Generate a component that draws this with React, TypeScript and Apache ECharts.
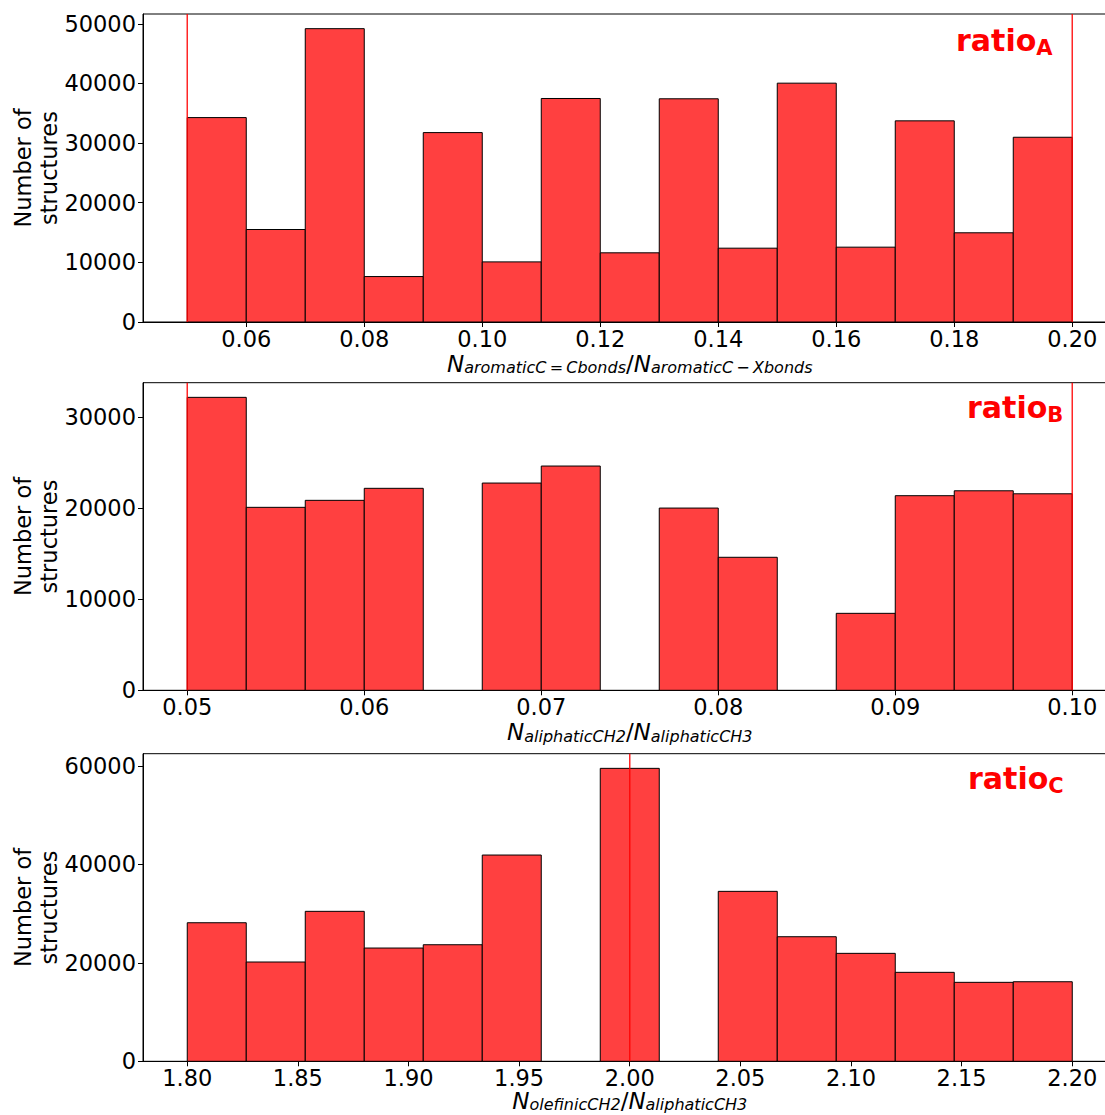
import React, { useEffect, useRef } from "react";
import * as echarts from "echarts";

const FONT = "DejaVu Sans";

// Histogram counts (15 equal bins per panel)
const countsA = [34280, 15510, 49190, 7620, 31760, 10080, 37480, 11600, 37430, 12380, 40050, 12550, 33730, 14960, 30980];
const countsB = [32200, 20110, 20880, 22200, 0, 22780, 24650, 0, 20030, 14620, 0, 8460, 21390, 21930, 21600];
const countsC = [28160, 20180, 30480, 23020, 23690, 41920, 0, 59540, 0, 34540, 25320, 21940, 18080, 16050, 16170];

// Bin ranges
const rangeA = [0.05, 0.2];
const rangeB = [0.05, 0.1];
const rangeC = [1.8, 2.2];

// Reference (red) vertical lines
const refA = [0.05, 0.2];
const refB = [0.05, 0.1];
const refC = [2.0];

// Tick values
const xTicksA = [0.06, 0.08, 0.1, 0.12, 0.14, 0.16, 0.18, 0.2];
const xTicksB = [0.05, 0.06, 0.07, 0.08, 0.09, 0.1];
const xTicksC = [1.8, 1.85, 1.9, 1.95, 2.0, 2.05, 2.1, 2.15, 2.2];
const yTicksA = [0, 10000, 20000, 30000, 40000, 50000];
const yTicksB = [0, 10000, 20000, 30000];
const yTicksC = [0, 20000, 40000, 60000];

const TS = "\u2009";

const panels = [
  {
    counts: countsA, range: rangeA, refs: refA, xTicks: xTicksA, yTicks: yTicksA,
    top: 14, height: 308, label: "A", labelX: 956, labelTop: 25.5, nameGap: 29.7,
    xName: [["n", "N"], ["s", `aromaticC${TS}=${TS}Cbonds`], ["u", "/"], ["n", "N"], ["s", `aromaticC${TS}\u2212${TS}Xbonds`]],
  },
  {
    counts: countsB, range: rangeB, refs: refB, xTicks: xTicksB, yTicks: yTicksB,
    top: 382.7, height: 307.6, label: "B", labelX: 967, labelTop: 392,
    nameGap: 29.7,
    xName: [["n", "N"], ["s", "aliphaticCH2"], ["u", "/"], ["n", "N"], ["s", "aliphaticCH3"]],
  },
  {
    counts: countsC, range: rangeC, refs: refC, xTicks: xTicksC, yTicks: yTicksC,
    top: 753.7, height: 307.6, label: "C", labelX: 968, labelTop: 763.5,
    nameGap: 27.3,
    xName: [["n", "N"], ["s", "olefinicCH2"], ["u", "/"], ["n", "N"], ["s", "aliphaticCH3"]],
  },
];

const GRID_LEFT = 143;
const GRID_WIDTH = 973.5;

function buildOption() {
  const grid: any[] = [];
  const xAxis: any[] = [];
  const yAxis: any[] = [];
  const series: any[] = [];
  const graphic: any[] = [];

  panels.forEach((p, i) => {
    const [lo, hi] = p.range;
    const n = p.counts.length;
    const w = (hi - lo) / n;
    const pad = (hi - lo) * 0.05;
    const yMax = Math.max(...p.counts) * 1.05;
    const data = p.counts.map((c, k) => [lo + k * w, lo + (k + 1) * w, c]);

    grid.push({
      left: GRID_LEFT, top: p.top, width: GRID_WIDTH, height: p.height,
      containLabel: false, outerBoundsMode: "none",
      show: true, borderColor: "#000", borderWidth: 1, backgroundColor: "transparent",
    });

    xAxis.push({
      type: "value", gridIndex: i, min: lo - pad, max: hi + pad,
      axisLine: { show: true, onZero: false, lineStyle: { color: "#000", width: 1 } },
      axisTick: { show: true, length: 5, lineStyle: { color: "#000", width: 1 }, customValues: p.xTicks },
      axisLabel: {
        customValues: p.xTicks, color: "#000", fontFamily: FONT, fontSize: 22.5, lineHeight: 20, margin: 7,
        formatter: (v: number) => v.toFixed(2),
      },
      splitLine: { show: false },
      name: p.xName.map(([s, t]) => `{${s}|${t}}`).join(""),
      nameLocation: "middle",
      nameGap: p.nameGap,
      nameMoveOverlap: false,
      nameTextStyle: {
        color: "#000", fontFamily: FONT,
        rich: {
          n: { fontSize: 23, fontStyle: "italic", fontFamily: FONT, lineHeight: 24, verticalAlign: "middle", color: "#000" },
          u: { fontSize: 23, fontFamily: FONT, lineHeight: 24, verticalAlign: "middle", color: "#000" },
          s: { fontSize: 16, fontStyle: "italic", fontFamily: FONT, lineHeight: 14, verticalAlign: "bottom", color: "#000" },
        },
      },
    });

    yAxis.push({
      type: "value", gridIndex: i, min: 0, max: yMax,
      axisLine: { show: true, lineStyle: { color: "#000", width: 1 } },
      axisTick: { show: true, length: 5, lineStyle: { color: "#000", width: 1 }, customValues: p.yTicks },
      axisLabel: {
        customValues: p.yTicks, color: "#000", fontFamily: FONT, fontSize: 22.5, margin: 7,
        formatter: (v: number) => String(Math.round(v)),
      },
      splitLine: { show: false },
      name: "Number of\nstructures",
      nameLocation: "middle",
      nameRotate: 90,
      nameGap: 81,
      nameMoveOverlap: false,
      nameTextStyle: { color: "#000", fontFamily: FONT, fontSize: 22.5, lineHeight: 26 },
    });

    series.push({
      type: "custom",
      xAxisIndex: i, yAxisIndex: i,
      data,
      encode: { x: [0, 1], y: 2 },
      renderItem: (params: any, api: any) => {
        const c = api.value(2);
        if (!c) return null;
        const p0 = api.coord([api.value(0), c]);
        const p1 = api.coord([api.value(1), 0]);
        return {
          type: "rect",
          shape: { x: p0[0], y: p0[1], width: p1[0] - p0[0], height: p1[1] - p0[1] },
          style: { fill: "#ff4040", stroke: "#000", lineWidth: 1 },
        };
      },
      z: 2,
      silent: true,
    });

    p.refs.forEach((r) => {
      series.push({
        type: "line",
        xAxisIndex: i, yAxisIndex: i,
        data: [[r, 0], [r, yMax]],
        symbol: "none",
        lineStyle: { color: "#ff0000", width: 1.5, opacity: 0.85 },
        z: 3,
        silent: true,
      });
    });

    graphic.push({
      type: "text",
      left: p.labelX,
      top: p.labelTop,
      style: {
        text: `{r|ratio}{s|${p.label}}`,
        rich: {
          r: { fontSize: 30, fontWeight: "bold", fontFamily: FONT, fill: "#ff0000", lineHeight: 36, verticalAlign: "middle" },
          s: { fontSize: 21, fontWeight: "bold", fontFamily: FONT, fill: "#ff0000", lineHeight: 22, verticalAlign: "bottom" },
        },
      },
    });
  });

  return {
    animation: false,
    backgroundColor: "#fff",
    grid, xAxis, yAxis, series, graphic,
  };
}

export default function App() {
  const ref = useRef<HTMLDivElement>(null);
  useEffect(() => {
    if (!ref.current) return;
    const chart = echarts.init(ref.current, null, { renderer: "svg" });
    chart.setOption(buildOption() as any);
    return () => chart.dispose();
  }, []);
  return (
    <div style={{ position: "absolute", left: 0, top: 0, width: 1105, height: 1115, overflow: "hidden", background: "#fff" }}>
      <div ref={ref} style={{ width: 1125, height: 1115 }} />
    </div>
  );
}
